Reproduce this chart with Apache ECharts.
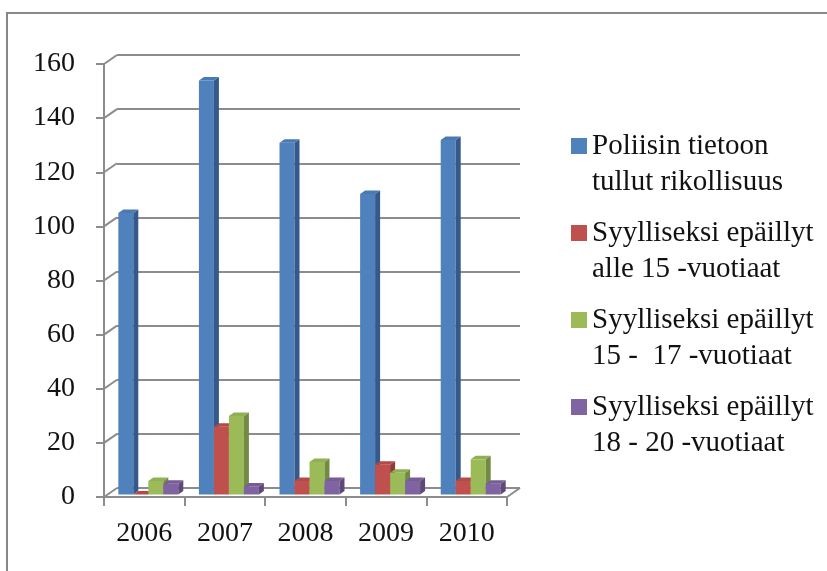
<!DOCTYPE html>
<html>
<head>
<meta charset="utf-8">
<script src="https://cdn.jsdelivr.net/npm/echarts@6/dist/echarts.min.js"></script>
<style>
  html, body { margin: 0; padding: 0; background: #ffffff; }
  #chart { width: 827px; height: 571px; }
</style>
</head>
<body>
<div id="chart"></div>
<script>
// Years on the category axis
const years = ['2006', '2007', '2008', '2009', '2010'];

// Series names (two-line legend labels)
const seriesNames = [
  'Poliisin tietoon\ntullut rikollisuus',
  'Syylliseksi epäillyt\nalle 15 -vuotiaat',
  'Syylliseksi epäillyt\n15 -  17 -vuotiaat',
  'Syylliseksi epäillyt\n18 - 20 -vuotiaat'
];

// Values per series
const rikollisuus = [104, 153, 130, 111, 131];
const alle15 = [0, 25, 5, 11, 5];
const ika15to17 = [5, 29, 12, 8, 13];
const ika18to20 = [4, 3, 5, 5, 4];

// Value axis ticks
const yTicks = [0, 20, 40, 60, 80, 100, 120, 140, 160];

// Face colours: front, side, top
const faceColors = [
  ['#4F81BD', '#34598A', '#4A7AB4'],
  ['#C0504D', '#8E3B39', '#B34A47'],
  ['#9BBB59', '#728A41', '#91AF53'],
  ['#8064A2', '#5E4A78', '#775D97']
];

// Pseudo-3D geometry
const BACK_DX = 13, BACK_DY = -9;     // back wall offset from front plane
const BAR_DX = 4, BAR_DY = -2.5;      // bar front face offset
const DEPTH_DX = 5, DEPTH_DY = -3.5;  // bar depth
const BAR_RATIO = 0.186;              // bar width / category band
const GRID_COLOR = '#8c8c8c';
const FONT = "'Liberation Serif', 'DejaVu Serif', serif";

const seriesValues = [rikollisuus, alle15, ika15to17, ika18to20];

function barRenderer(idx) {
  const c = faceColors[idx];
  return function (params, api) {
    const cat = api.value(0);
    const val = api.value(1);
    const band = api.size([1, 0])[0];
    const w = band * BAR_RATIO;
    const base = api.coord([cat, 0]);
    const top = api.coord([cat, val]);
    const x0 = base[0] - 2 * w + idx * w + BAR_DX;
    const x1 = x0 + w;
    const yb = base[1] + BAR_DY;
    const yt = top[1] + BAR_DY;
    return {
      type: 'group',
      children: [
        { type: 'rect', shape: { x: x0, y: yt, width: w, height: yb - yt }, style: { fill: c[0] } },
        { type: 'polygon', shape: { points: [[x1, yb], [x1, yt], [x1 + DEPTH_DX, yt + DEPTH_DY], [x1 + DEPTH_DX, yb + DEPTH_DY]] }, style: { fill: c[1] } },
        { type: 'polygon', shape: { points: [[x0, yt], [x1, yt], [x1 + DEPTH_DX, yt + DEPTH_DY], [x0 + DEPTH_DX, yt + DEPTH_DY]] }, style: { fill: c[2] } }
      ]
    };
  };
}

// Diagonal links from the front value axis to the back wall, plus the floor's right edge
function wallLinkRenderer(params, api) {
  const v = api.value(1);
  const p = api.coord([0, v]);
  const gx = params.coordSys.x;
  const children = [{
    type: 'line',
    shape: { x1: gx, y1: p[1], x2: gx + BACK_DX, y2: p[1] + BACK_DY },
    style: { stroke: GRID_COLOR, lineWidth: 2 }
  }];
  if (v === 0) {
    const rx = gx + params.coordSys.width;
    children.push({
      type: 'line',
      shape: { x1: rx, y1: p[1], x2: rx + BACK_DX, y2: p[1] + BACK_DY },
      style: { stroke: GRID_COLOR, lineWidth: 2 }
    });
  }
  return { type: 'group', children: children };
}

const chart = echarts.init(document.getElementById('chart'), null, { renderer: 'canvas' });

const barSeries = seriesValues.map(function (vals, i) {
  return {
    name: seriesNames[i],
    type: 'custom',
    xAxisIndex: 0,
    yAxisIndex: 0,
    renderItem: barRenderer(i),
    itemStyle: { color: faceColors[i][0] },
    encode: { x: 0, y: 1 },
    data: vals.map(function (v, k) { return [k, v]; }),
    z: 3
  };
});

const option = {
  animation: false,
  backgroundColor: '#ffffff',
  graphic: [{
    type: 'rect',
    z: -10,
    silent: true,
    shape: { x: 7, y: 13, width: 900, height: 700 },
    style: { fill: 'none', stroke: '#878787', lineWidth: 2 }
  }],
  legend: {
    orient: 'vertical',
    left: 571,
    top: 92,
    padding: 0,
    itemWidth: 16,
    itemHeight: 16,
    itemGap: -21,
    itemTextGap: 8,
    icon: 'rect',
    selectedMode: false,
    data: seriesNames,
    // leading blank line puts the first text line level with the swatch
    formatter: function (name) { return '\n' + name; },
    textStyle: {
      fontFamily: FONT,
      fontSize: 29,
      lineHeight: 36,
      color: '#111'
    }
  },
  grid: [
    { left: 104, top: 64, width: 403, height: 433 },
    { left: 104 + BACK_DX, top: 64 + BACK_DY, width: 403, height: 433 }
  ],
  xAxis: [
    {
      type: 'category',
      gridIndex: 0,
      data: years,
      boundaryGap: true,
      axisLine: { show: true, lineStyle: { color: GRID_COLOR, width: 2 } },
      axisTick: { show: true, length: 9, lineStyle: { color: GRID_COLOR, width: 2 } },
      axisLabel: { fontFamily: FONT, fontSize: 28, color: '#111', margin: 23 },
      splitLine: { show: false }
    },
    {
      type: 'category',
      gridIndex: 1,
      data: years,
      show: false
    }
  ],
  yAxis: [
    {
      type: 'value',
      gridIndex: 0,
      min: 0,
      max: 160,
      interval: 20,
      axisLine: { show: true, lineStyle: { color: GRID_COLOR, width: 2 } },
      axisTick: { show: true, length: 8, lineStyle: { color: GRID_COLOR, width: 2 } },
      axisLabel: { fontFamily: FONT, fontSize: 28, color: '#111', margin: 29 },
      splitLine: { show: false }
    },
    {
      type: 'value',
      gridIndex: 1,
      min: 0,
      max: 160,
      interval: 20,
      axisLine: { show: false },
      axisTick: { show: false },
      axisLabel: { show: false },
      splitLine: { show: true, lineStyle: { color: GRID_COLOR, width: 2 } }
    }
  ],
  series: [{
    name: 'wallLinks',
    type: 'custom',
    silent: true,
    xAxisIndex: 0,
    yAxisIndex: 0,
    renderItem: wallLinkRenderer,
    encode: { x: 0, y: 1 },
    data: yTicks.map(function (v) { return [0, v]; }),
    z: 1
  }].concat(barSeries)
};

chart.setOption(option);
</script>
</body>
</html>
